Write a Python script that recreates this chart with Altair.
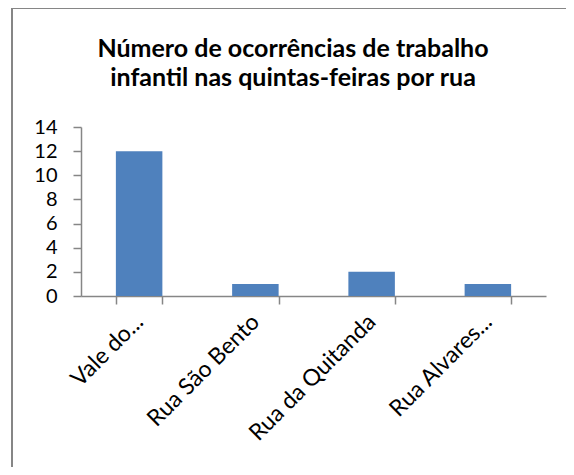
import altair as alt
import pandas as pd

ruas = ["Vale do...", "Rua São Bento", "Rua da Quitanda", "Rua Alvares..."]
ocorrencias = [12, 1, 2, 1]
title_lines = ["Número de ocorrências de trabalho", "infantil nas quintas-feiras por rua"]
y_ticks = [0, 2, 4, 6, 8, 10, 12, 14]

df = pd.DataFrame({"rua": ruas, "n": ocorrencias})

W, H = 465, 169
PL, PT = 73, 119
FONT = "Lato"
GREY = "#868686"

bars = alt.Chart(df).mark_bar(color="#4F81BD").encode(
    x=alt.X(
        "rua:N", sort=ruas, title=None,
        scale=alt.Scale(paddingInner=0.6, paddingOuter=0.3),
        axis=alt.Axis(
            labelAngle=-45, labelAlign="right", labelBaseline="middle",
            tickBand="extent", tickSize=8, domainColor=GREY, tickColor=GREY,
            domainWidth=1.5, tickWidth=1.5,
            labelFontSize=23, labelFont=FONT, labelColor="black", labelPadding=14,
        ),
    ),
    y=alt.Y(
        "n:Q", title=None, scale=alt.Scale(domain=[0, 14]),
        axis=alt.Axis(
            values=y_ticks, grid=False, tickSize=8, labelPadding=16,
            labelFontSize=20, labelFont=FONT, labelColor="black",
            domainColor=GREY, tickColor=GREY, domainWidth=1.5, tickWidth=1.5,
        ),
    ),
)

one = pd.DataFrame({"a": [0]})

frame = alt.Chart(one).mark_rect(
    fill=None, stroke=GREY, strokeWidth=2, clip=False
).encode(
    x=alt.value(-69), x2=alt.value(600), y=alt.value(-119), y2=alt.value(420)
)

title1 = alt.Chart(one).mark_text(
    font=FONT, fontSize=25, fontWeight="bold", color="black",
    align="center", baseline="alphabetic",
).encode(x=alt.value(212), y=alt.value(-70), text=alt.value(title_lines[0]))

title2 = alt.Chart(one).mark_text(
    font=FONT, fontSize=25, fontWeight="bold", color="black",
    align="center", baseline="alphabetic",
).encode(x=alt.value(212), y=alt.value(-41), text=alt.value(title_lines[1]))

chart = alt.layer(frame, title1, title2, bars).properties(
    width=W, height=H,
    autosize=alt.AutoSizeParams(type="none"),
    padding={"left": PL, "top": PT, "right": 558 - PL - W, "bottom": 459 - PT - H},
).configure_view(stroke=None)

chart.save("out.html", embed_options={"renderer": "svg", "actions": False})
